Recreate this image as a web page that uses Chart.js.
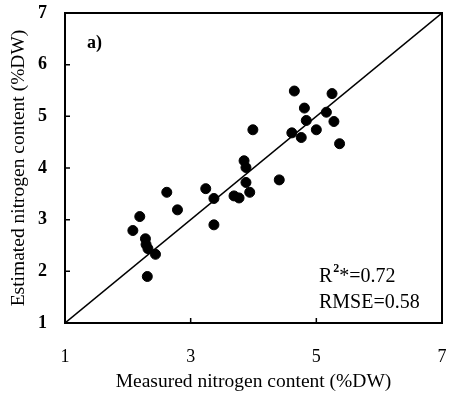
<!DOCTYPE html>
<html lang="en">
<head>
<meta charset="UTF-8">
<title>Measured vs estimated nitrogen content</title>
<style>
  html, body { margin: 0; padding: 0; background: #fff; }
  #wrap { width: 451px; height: 395px; }
</style>
</head>
<body>
<div id="wrap"><canvas id="chart" width="451" height="395"></canvas></div>
<script src="https://cdn.jsdelivr.net/npm/chart.js"></script>
<script>
// measured vs estimated N (%DW)
const measured = [4.65, 5.25, 4.81, 5.16, 5.28, 4.84, 5.00, 4.61, 4.76, 5.37,
                  3.99, 3.85, 3.88, 3.88, 3.94, 4.41, 3.69, 3.77, 3.24, 3.37,
                  3.37, 2.62, 2.79, 2.19, 2.08, 2.28, 2.29, 2.32, 2.44, 2.31];
const estimated = [5.49, 5.44, 5.16, 5.08, 4.90, 4.92, 4.74, 4.68, 4.59, 4.47,
                   4.74, 4.14, 4.01, 3.72, 3.53, 3.77, 3.46, 3.42, 3.60, 3.41,
                   2.90, 3.53, 3.19, 3.06, 2.79, 2.63, 2.52, 2.44, 2.33, 1.90];
const oneToOne = [1, 7];
const xTicks = [1, 3, 5, 7];
const yTicks = [1, 2, 3, 4, 5, 6, 7];

const serif = "'Liberation Serif', 'DejaVu Serif', serif";

// box, inward tick marks and the text labels inside the plot
const framePlugin = {
  id: 'frame',
  afterDraw(chart) {
    const { ctx, chartArea: a, scales } = chart;
    ctx.save();
    ctx.strokeStyle = '#000';
    ctx.lineWidth = 2;
    ctx.strokeRect(a.left, a.top, a.right - a.left, a.bottom - a.top);
    ctx.lineWidth = 1.5;
    ctx.beginPath();
    yTicks.slice(1, -1).forEach(v => {
      const y = scales.y.getPixelForValue(v);
      ctx.moveTo(a.left, y);
      ctx.lineTo(a.left + 5, y);
    });
    xTicks.slice(1, -1).forEach(v => {
      const x = scales.x.getPixelForValue(v);
      ctx.moveTo(x, a.bottom);
      ctx.lineTo(x, a.bottom - 5);
    });
    ctx.stroke();

    ctx.fillStyle = '#000';
    ctx.textBaseline = 'middle';
    ctx.font = 'bold 18px ' + serif;
    ctx.fillText('a)', a.left + 22, a.top + 30);
    ctx.font = '20px ' + serif;
    const tx = a.left + 254;
    ctx.fillText('R', tx, a.bottom - 46);
    const rw = ctx.measureText('R').width;
    ctx.font = 'bold 12px ' + serif;
    ctx.fillText('2', tx + rw + 1, a.bottom - 54);
    const sw = ctx.measureText('2').width;
    ctx.font = '20px ' + serif;
    ctx.fillText('*=0.72', tx + rw + sw + 1, a.bottom - 46);
    ctx.fillText('RMSE=0.58', tx, a.bottom - 20);
    ctx.restore();
  }
};

new Chart(document.getElementById('chart'), {
  type: 'scatter',
  data: {
    datasets: [
      {
        label: 'samples',
        data: measured.map((m, i) => ({ x: m, y: estimated[i] })),
        backgroundColor: '#000',
        borderColor: '#000',
        pointRadius: 5,
        pointHoverRadius: 5
      },
      {
        label: '1:1',
        type: 'line',
        data: oneToOne.map(v => ({ x: v, y: v })),
        borderColor: '#000',
        borderWidth: 1.5,
        pointRadius: 0,
        fill: false
      }
    ]
  },
  plugins: [framePlugin],
  options: {
    responsive: false,
    animation: false,
    layout: { padding: { top: 13, right: 9, left: 0, bottom: 0 }, autoPadding: false },
    plugins: { legend: { display: false }, tooltip: { enabled: false } },
    scales: {
      x: {
        type: 'linear',
        min: 1, max: 7,
        afterFit(s) { s.height = 72; s.paddingLeft = 0; s.paddingRight = 0; },
        afterBuildTicks(s) { s.ticks = xTicks.map(v => ({ value: v })); },
        grid: { display: false, drawTicks: false },
        border: { display: false },
        ticks: { color: '#000', padding: 23, font: { family: serif, size: 18 } },
        title: {
          display: true,
          text: 'Measured nitrogen content (%DW)',
          color: '#000',
          font: { family: serif, size: 19.5 },
          padding: { top: 0, bottom: 1 }
        }
      },
      y: {
        type: 'linear',
        min: 1, max: 7,
        afterFit(s) { s.width = 65; s.paddingTop = 0; s.paddingBottom = 0; },
        afterBuildTicks(s) { s.ticks = yTicks.map(v => ({ value: v })); },
        grid: { display: false, drawTicks: false },
        border: { display: false },
        ticks: { color: '#000', padding: 18, font: { family: serif, size: 18, weight: 'bold' } },
        title: {
          display: true,
          text: 'Estimated nitrogen content (%DW)',
          color: '#000',
          font: { family: serif, size: 19.5 },
          padding: { top: 7, bottom: 0 }
        }
      }
    }
  }
});
</script>
</body>
</html>
